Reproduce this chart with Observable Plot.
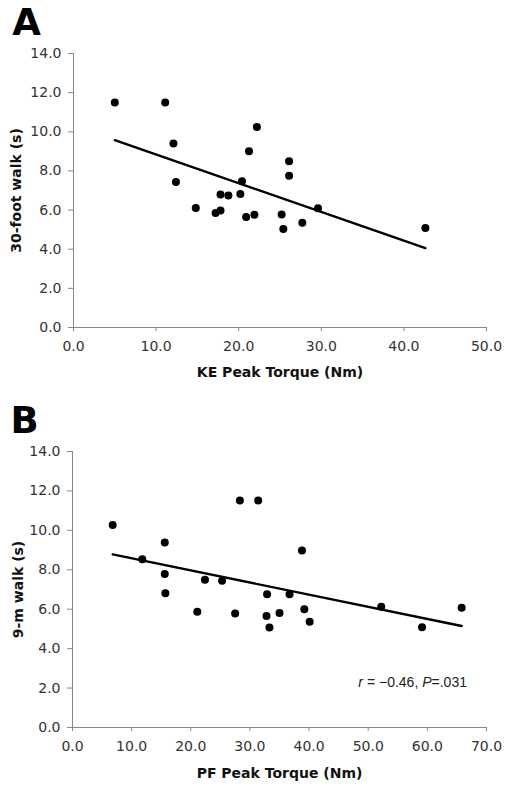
<!DOCTYPE html>
<html><head><meta charset="utf-8">
<script src="https://cdn.jsdelivr.net/npm/d3@7"></script>
<script src="https://cdn.jsdelivr.net/npm/@observablehq/plot@0.6"></script>
<style>
body{margin:0;background:#fff;width:510px;}
svg{display:block;}
</style></head><body><div id="chart"></div>
<script>
// Panel A: KE peak torque (Nm) vs 30-foot walk (s)
const keTorque = [5.0, 11.1, 12.1, 12.4, 22.2, 21.25, 26.1, 26.1, 20.4, 17.8, 18.75, 20.2, 14.8, 17.2, 17.8, 20.9, 21.9, 25.2, 25.4, 27.7, 29.6, 42.6];
const walk30ft = [11.5, 11.5, 9.4, 7.43, 10.25, 9.0, 8.5, 7.76, 7.47, 6.79, 6.75, 6.82, 6.1, 5.85, 5.98, 5.64, 5.76, 5.78, 5.03, 5.35, 6.09, 5.08];
// Panel B: PF peak torque (Nm) vs 9-m walk (s)
const pfTorque = [6.8, 11.8, 15.6, 15.6, 22.4, 25.3, 28.3, 31.4, 38.8, 15.7, 21.1, 27.5, 32.9, 32.8, 33.3, 35.0, 36.7, 39.2, 40.1, 52.2, 59.1, 65.8];
const walk9m = [10.27, 8.53, 9.39, 7.78, 7.49, 7.44, 11.51, 11.51, 8.98, 6.81, 5.87, 5.78, 6.76, 5.66, 5.07, 5.81, 6.76, 6.0, 5.37, 6.12, 5.08, 6.07];

const yTicks = [0, 2, 4, 6, 8, 10, 12, 14];
const keTicks = [0, 10, 20, 30, 40, 50];
const pfTicks = [0, 10, 20, 30, 40, 50, 60, 70];
const annotationText = "r = −0.46, P=.031";
const annotationPos = {x: 66.7, y: 2.3};

function panel(o) {
  const data = o.xs.map((x, i) => ({x, y: o.ys[i]}));
  const marks = [
    Plot.ruleX([0], {stroke: "#888", strokeWidth: 1}),
    Plot.ruleY([0], {stroke: "#888", strokeWidth: 1}),
    Plot.axisY({ticks: yTicks, tickFormat: d3.format(".1f"), tickSize: 5, tickPadding: 7, stroke: "#888", fill: "#333", fontSize: 14, label: null}),
    Plot.axisX({ticks: o.xTicks, tickFormat: d3.format(".1f"), tickSize: 4, tickPadding: 10, stroke: "#888", fill: "#333", fontSize: 14, label: null}),
    Plot.linearRegressionY(data, {x: "x", y: "y", stroke: "black", strokeWidth: 2.4, ci: 0}),
    Plot.dot(data, {x: "x", y: "y", r: 4, fill: "black", stroke: "none"}),
    Plot.text([o.letter], {frameAnchor: "top-left", dx: o.letterDx, dy: o.letterDy, fontSize: 37, fontWeight: "bold", fill: "black", textAnchor: "middle", lineAnchor: "middle", fontFamily: "DejaVu Sans"}),
    Plot.text([o.yLabel], {frameAnchor: "left", rotate: -90, dx: o.yLabelDx, fontSize: 14, fontWeight: "bold", fill: "#111", textAnchor: "middle", lineAnchor: "middle"}),
    Plot.text([o.xLabel], {frameAnchor: "bottom", dy: o.xLabelDy, fontSize: 14, fontWeight: "bold", fill: "#111", textAnchor: "middle", lineAnchor: "middle"})
  ];
  if (o.annotation) {
    marks.push(Plot.text([o.annotation.pos], {x: "x", y: "y", text: () => o.annotation.text, textAnchor: "end", fontFamily: "Liberation Sans", fontSize: 14, fill: "#222"}));
  }
  const svg = Plot.plot({
    width: 510,
    height: o.height,
    marginTop: o.mt, marginBottom: o.mb, marginLeft: o.ml, marginRight: o.mr,
    x: {domain: o.xDomain, ticks: o.xTicks},
    y: {domain: [0, 14]},
    style: {fontFamily: "DejaVu Sans", fontSize: "14px", background: "white", color: "#333", overflow: "visible"},
    marks
  });
  if (o.annotation) {
    d3.select(svg).selectAll("text").each(function() {
      if (this.textContent === o.annotation.text) {
        this.innerHTML = '<tspan font-style="italic">r</tspan> = −0.46, <tspan font-style="italic">P</tspan>=.031';
      }
    });
  }
  return svg;
}

const root = document.getElementById("chart");
root.appendChild(panel({
  letter: "A", xs: keTorque, ys: walk30ft, xDomain: [0, 50], xTicks: keTicks,
  xLabel: "KE Peak Torque (Nm)", yLabel: "30-foot walk (s)",
  height: 390, mt: 53, mb: 63, ml: 73, mr: 24,
  letterDx: -47, letterDy: -30, yLabelDx: -57, xLabelDy: 45
}));
root.appendChild(panel({
  letter: "B", xs: pfTorque, ys: walk9m, xDomain: [0, 70], xTicks: pfTicks,
  xLabel: "PF Peak Torque (Nm)", yLabel: "9-m walk (s)",
  height: 402, mt: 61, mb: 65, ml: 72, mr: 24,
  letterDx: -48, letterDy: -30, yLabelDx: -54, xLabelDy: 46,
  annotation: {text: annotationText, pos: annotationPos}
}));
</script></body></html>
